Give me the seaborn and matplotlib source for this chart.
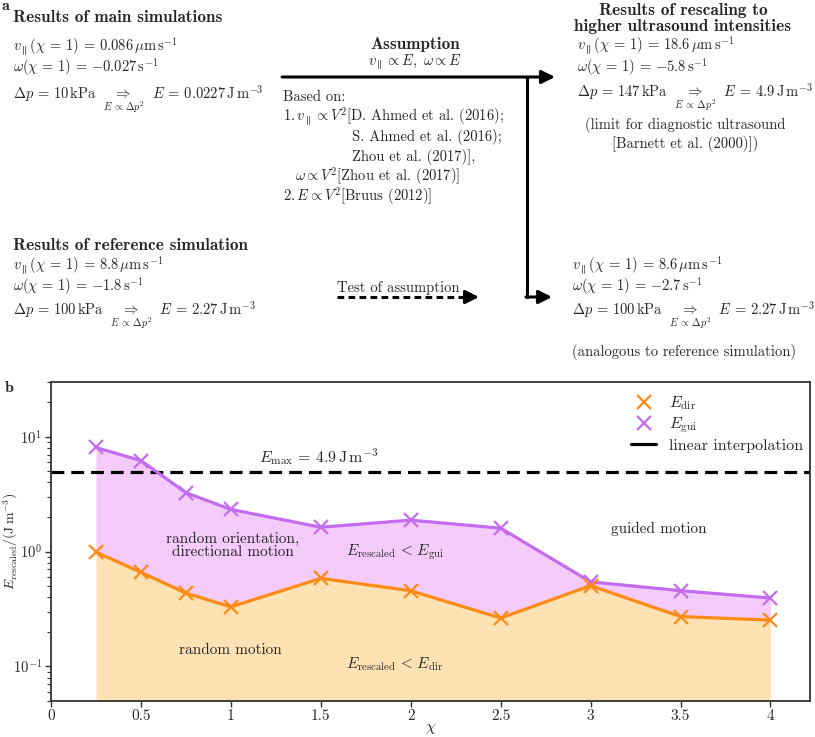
import matplotlib
matplotlib.use("Agg")
import matplotlib.pyplot as plt
from matplotlib.lines import Line2D
from matplotlib.ticker import FuncFormatter
import seaborn as sns

# data of panel b
chi = [0.25, 0.5, 0.75, 1, 1.5, 2, 2.5, 3, 3.5, 4]
E_dir = [0.99, 0.66, 0.435, 0.33, 0.585, 0.456, 0.264, 0.505, 0.272, 0.253]
E_gui = [8.07, 6.2, 3.26, 2.33, 1.63, 1.88, 1.60, 0.545, 0.457, 0.394]
E_max = 4.9
xticks = [0, 0.5, 1, 1.5, 2, 2.5, 3, 3.5, 4]

ORANGE = "#ff8a14"
PURPLE = "#c46cf0"
FS = 10.5
FSB = 12.4  # bold headings (cmb10 is narrower than LaTeX bold)

sns.set_style("ticks")
plt.rcParams['font.family'] = ['cmr10', 'DejaVu Serif']
plt.rcParams['mathtext.fontset'] = 'cm'
plt.rcParams['axes.formatter.use_mathtext'] = True

fig = plt.figure(figsize=(8.15, 7.37), dpi=100)

# ---------------- panel a : diagram, pixel coordinates ----------------
axa = fig.add_axes([0, 1 - 360 / 737, 1, 360 / 737])
axa.set_xlim(0, 815)
axa.set_ylim(360, 0)
axa.axis("off")

EQ = r"\,=\,"


def T(x, y, s, bold=False, **kw):
    kw.setdefault("va", "center")
    size = FS
    if bold:
        kw["family"] = "cmb10"
        size = FSB
    axa.text(x, y, s, fontsize=size, **kw)


def dp(val, E):
    return (r"$\Delta p" + EQ + r"{%s}\,\mathrm{kPa}\ \ \underset{E\,\propto\,\Delta p^2}{\Rightarrow}\ \ "
            r"E" + EQ + r"{%s}\,\mathrm{J\,m^{-3}}$") % (val, E)


def v(val):
    return (r"$v_{\parallel}(\chi" + EQ + "1)" + EQ + r"{%s}\,\mu\mathrm{m\,s^{-1}}$") % val


def w(val):
    return (r"$\omega(\chi" + EQ + "1)" + EQ + r"{%s}\,\mathrm{s^{-1}}$") % val


axa.text(2, 6, "a", family="cmb10", fontsize=FS + 1, va="center")
T(13, 18, "Results of main simulations", bold=True)
T(13, 46, v("0.086"))
T(13, 68, w("-0.027"))
T(13, 99, dp("10", "0.0227"), va="baseline")

T(415, 45, "Assumption", bold=True, ha="center")
T(415, 62, r"$v_{\parallel}\propto E,\ \omega\propto E$", ha="center")
T(283, 97, "Based on:")
T(283, 116, r"$\mathbf{1}.v_{\parallel}\propto V^2$[D. Ahmed et al. (2016);")
T(352, 137, "S. Ahmed et al. (2016);")
T(352, 157, "Zhou et al. (2017)],")
T(295, 176, r"$\omega\propto V^2$[Zhou et al. (2017)]")
T(283, 196, r"$\mathbf{2}.E\propto V^2$[Bruus (2012)]")

T(683, 10, "Results of rescaling to", bold=True, ha="center")
T(683, 27, "higher ultrasound intensities", bold=True, ha="center")
T(577, 45, v("18.6"))
T(577, 68, w("-5.8"))
T(577, 97, dp("147", "4.9"), va="baseline")
T(685, 125, "(limit for diagnostic ultrasound", ha="center")
T(685, 144, "[Barnett et al. (2000)])", ha="center")

T(13, 246, "Results of reference simulation", bold=True)
T(13, 265, v("8.8"))
T(13, 287, w("-1.8"))
T(13, 315, dp("100", "2.27"), va="baseline")

T(572, 265, v("8.6"))
T(572, 287, w("-2.7"))
T(572, 315, dp("100", "2.27"), va="baseline")
T(572, 352, "(analogous to reference simulation)")

T(337, 288, "Test of assumption")

arrow = dict(arrowstyle="-|>", color="k", lw=2.2, mutation_scale=20,
             shrinkA=0, shrinkB=0)
axa.annotate("", xy=(555, 77), xytext=(282, 77), arrowprops=arrow)
axa.plot([527, 527], [77, 297], color="k", lw=2.2, solid_capstyle="projecting")
axa.annotate("", xy=(552, 297), xytext=(526, 297), arrowprops=arrow)
axa.plot([337, 466], [297, 297], color="k", lw=2.2, dashes=(2.2, 1.4))
axa.annotate("", xy=(479, 297), xytext=(465, 297), arrowprops=arrow)

# ---------------- panel b ----------------
ax = fig.add_axes([51 / 815, 1 - 701 / 737, 759 / 815, 319 / 737])
ax.set_yscale("log")
ax.fill_between(chi, 1e-3, E_dir, color="#fee2b3", lw=0, zorder=1)
ax.fill_between(chi, E_dir, E_gui, color="#f4cbfb", lw=0, zorder=1)
ax.axhline(E_max, color="k", lw=2.3, dashes=(4, 2.2), zorder=2)
sns.lineplot(x=chi, y=E_gui, ax=ax, color=PURPLE, lw=2.3, marker="x",
             markersize=10, markeredgewidth=1.6, markeredgecolor=PURPLE, zorder=3)
sns.lineplot(x=chi, y=E_dir, ax=ax, color=ORANGE, lw=2.3, marker="x",
             markersize=10, markeredgewidth=1.6, markeredgecolor=ORANGE, zorder=3)

ax.set_xlim(0, 4.22)
ax.set_ylim(0.05, 30)
ax.set_xticks(xticks)
ax.xaxis.set_major_formatter(FuncFormatter(lambda val, _: f"{val:g}"))
ax.tick_params(labelsize=FS + 0.5, length=4.5, width=1, color="#333333")
ax.tick_params(axis="x", pad=1.5)
ax.tick_params(axis="y", pad=2, labelsize=FS)
ax.tick_params(which="minor", length=3, width=0.8, color="#333333")
for s in ax.spines.values():
    s.set_color("#333333")
    s.set_linewidth(1.3)
ax.set_xlabel(r"$\chi$", fontsize=FS + 1, labelpad=-1)
ax.set_ylabel(r"$E_\mathrm{rescaled}/(\mathrm{J\,m^{-3}})$", fontsize=10)
ax.yaxis.set_label_coords(-0.041, 0.5)

tk = dict(fontsize=FS + 0.5, ha="center", va="center")
ax.text(1.155, 6.6, r"$E_\mathrm{max}" + EQ + r"4.9\,\mathrm{J\,m^{-3}}$",
        fontsize=FS + 1, ha="left", va="center")
ax.text(1.01, 1.13, "random orientation,\ndirectional motion", linespacing=0.95, **tk)
ax.text(1.91, 0.98, r"$E_\mathrm{rescaled}\,<\,E_\mathrm{gui}$", **tk)
ax.text(1.0, 0.139, "random motion", **tk)
ax.text(1.91, 0.105, r"$E_\mathrm{rescaled}\,<\,E_\mathrm{dir}$", **tk)
ax.text(3.38, 1.57, "guided motion", **tk)

handles = [
    Line2D([], [], color=ORANGE, marker="x", ls="none", markersize=10, markeredgewidth=1.6),
    Line2D([], [], color=PURPLE, marker="x", ls="none", markersize=10, markeredgewidth=1.6),
    Line2D([], [], color="k", lw=2.3),
]
ax.legend(handles, [r"$E_\mathrm{dir}$", r"$E_\mathrm{gui}$", "linear interpolation"],
          loc="upper right", frameon=False, fontsize=FS + 1, handlelength=1.6,
          labelspacing=0.2, handletextpad=0.8, bbox_to_anchor=(1.01, 1.005))

fig.text(5 / 815, 1 - 388 / 737, "b", fontsize=FS + 1, family="cmb10", va="center")

fig.savefig("out.png", dpi=100)
